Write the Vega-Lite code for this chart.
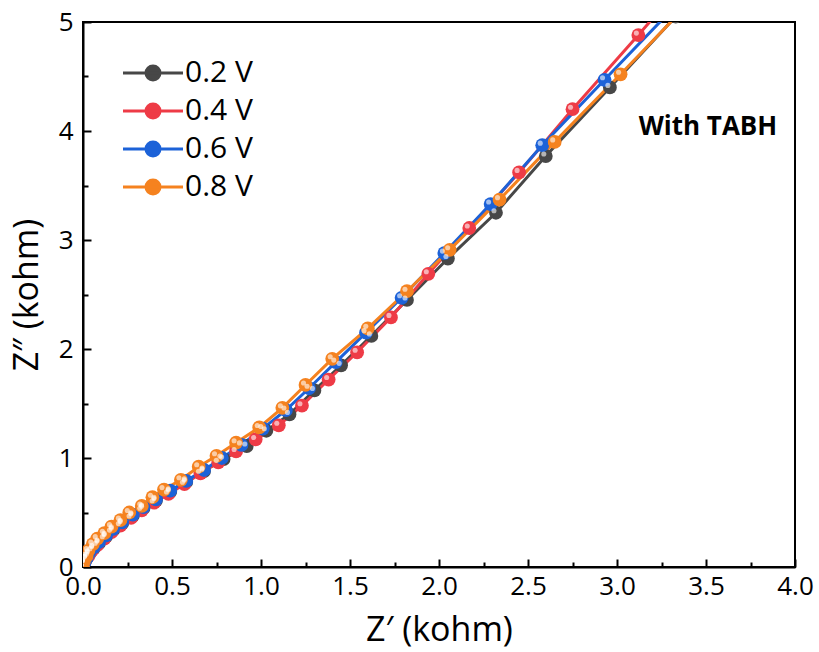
{
  "$schema": "https://vega.github.io/schema/vega-lite/v6.json",
  "width": 712,
  "height": 545,
  "autosize": {"type": "none"},
  "padding": {"left": 83, "top": 22, "right": 24, "bottom": 85},
  "background": "white",
  "config": {
    "font": "Open Sans",
    "view": {"stroke": "black", "strokeWidth": 2},
    "axis": {"grid": false, "labelFlush": false, "domainColor": "black", "domainWidth": 2, "tickColor": "black", "tickWidth": 2, "labelColor": "black", "titleColor": "black", "labelFont": "Open Sans", "titleFont": "Open Sans", "titleFontWeight": "normal"}
  },
  "datasets": {
    "eis": [
      {"s": "0.2 V", "x": 0, "y": 0}, {"s": "0.2 V", "x": 0.008, "y": 0.04}, {"s": "0.2 V", "x": 0.02, "y": 0.08}, {"s": "0.2 V", "x": 0.035, "y": 0.12}, {"s": "0.2 V", "x": 0.06, "y": 0.17}, {"s": "0.2 V", "x": 0.09, "y": 0.22}, {"s": "0.2 V", "x": 0.13, "y": 0.28}, {"s": "0.2 V", "x": 0.17, "y": 0.34}, {"s": "0.2 V", "x": 0.22, "y": 0.40}, {"s": "0.2 V", "x": 0.28, "y": 0.47}, {"s": "0.2 V", "x": 0.34, "y": 0.54}, {"s": "0.2 V", "x": 0.41, "y": 0.61}, {"s": "0.2 V", "x": 0.49, "y": 0.69}, {"s": "0.2 V", "x": 0.58, "y": 0.78}, {"s": "0.2 V", "x": 0.68, "y": 0.88}, {"s": "0.2 V", "x": 0.79, "y": 0.99}, {"s": "0.2 V", "x": 0.92, "y": 1.11}, {"s": "0.2 V", "x": 1.03, "y": 1.25}, {"s": "0.2 V", "x": 1.16, "y": 1.40}, {"s": "0.2 V", "x": 1.30, "y": 1.62}, {"s": "0.2 V", "x": 1.45, "y": 1.85}, {"s": "0.2 V", "x": 1.62, "y": 2.12}, {"s": "0.2 V", "x": 1.82, "y": 2.45}, {"s": "0.2 V", "x": 2.05, "y": 2.83}, {"s": "0.2 V", "x": 2.32, "y": 3.25}, {"s": "0.2 V", "x": 2.60, "y": 3.77}, {"s": "0.2 V", "x": 2.96, "y": 4.40}, {"s": "0.2 V", "x": 3.33, "y": 5.05},
      {"s": "0.4 V", "x": 0, "y": 0}, {"s": "0.4 V", "x": 0.01, "y": 0.05}, {"s": "0.4 V", "x": 0.03, "y": 0.10}, {"s": "0.4 V", "x": 0.05, "y": 0.15}, {"s": "0.4 V", "x": 0.08, "y": 0.20}, {"s": "0.4 V", "x": 0.12, "y": 0.26}, {"s": "0.4 V", "x": 0.16, "y": 0.32}, {"s": "0.4 V", "x": 0.21, "y": 0.38}, {"s": "0.4 V", "x": 0.27, "y": 0.45}, {"s": "0.4 V", "x": 0.33, "y": 0.52}, {"s": "0.4 V", "x": 0.40, "y": 0.59}, {"s": "0.4 V", "x": 0.48, "y": 0.67}, {"s": "0.4 V", "x": 0.57, "y": 0.76}, {"s": "0.4 V", "x": 0.66, "y": 0.86}, {"s": "0.4 V", "x": 0.76, "y": 0.96}, {"s": "0.4 V", "x": 0.86, "y": 1.06}, {"s": "0.4 V", "x": 0.97, "y": 1.17}, {"s": "0.4 V", "x": 1.10, "y": 1.30}, {"s": "0.4 V", "x": 1.23, "y": 1.48}, {"s": "0.4 V", "x": 1.38, "y": 1.72}, {"s": "0.4 V", "x": 1.54, "y": 1.97}, {"s": "0.4 V", "x": 1.73, "y": 2.29}, {"s": "0.4 V", "x": 1.94, "y": 2.69}, {"s": "0.4 V", "x": 2.17, "y": 3.11}, {"s": "0.4 V", "x": 2.45, "y": 3.62}, {"s": "0.4 V", "x": 2.75, "y": 4.20}, {"s": "0.4 V", "x": 3.12, "y": 4.88}, {"s": "0.4 V", "x": 3.50, "y": 5.60},
      {"s": "0.6 V", "x": 0, "y": 0}, {"s": "0.6 V", "x": 0.008, "y": 0.04}, {"s": "0.6 V", "x": 0.02, "y": 0.08}, {"s": "0.6 V", "x": 0.035, "y": 0.13}, {"s": "0.6 V", "x": 0.06, "y": 0.18}, {"s": "0.6 V", "x": 0.09, "y": 0.23}, {"s": "0.6 V", "x": 0.13, "y": 0.29}, {"s": "0.6 V", "x": 0.17, "y": 0.35}, {"s": "0.6 V", "x": 0.22, "y": 0.41}, {"s": "0.6 V", "x": 0.28, "y": 0.48}, {"s": "0.6 V", "x": 0.34, "y": 0.55}, {"s": "0.6 V", "x": 0.41, "y": 0.62}, {"s": "0.6 V", "x": 0.49, "y": 0.70}, {"s": "0.6 V", "x": 0.58, "y": 0.79}, {"s": "0.6 V", "x": 0.68, "y": 0.89}, {"s": "0.6 V", "x": 0.78, "y": 1.00}, {"s": "0.6 V", "x": 0.89, "y": 1.12}, {"s": "0.6 V", "x": 1.01, "y": 1.27}, {"s": "0.6 V", "x": 1.14, "y": 1.44}, {"s": "0.6 V", "x": 1.27, "y": 1.64}, {"s": "0.6 V", "x": 1.42, "y": 1.88}, {"s": "0.6 V", "x": 1.59, "y": 2.15}, {"s": "0.6 V", "x": 1.79, "y": 2.47}, {"s": "0.6 V", "x": 2.03, "y": 2.88}, {"s": "0.6 V", "x": 2.29, "y": 3.33}, {"s": "0.6 V", "x": 2.58, "y": 3.87}, {"s": "0.6 V", "x": 2.93, "y": 4.47}, {"s": "0.6 V", "x": 3.30, "y": 5.10},
      {"s": "0.8 V", "x": 0, "y": 0}, {"s": "0.8 V", "x": 0.005, "y": 0.05}, {"s": "0.8 V", "x": 0.02, "y": 0.10}, {"s": "0.8 V", "x": 0.03, "y": 0.15}, {"s": "0.8 V", "x": 0.055, "y": 0.21}, {"s": "0.8 V", "x": 0.08, "y": 0.26}, {"s": "0.8 V", "x": 0.12, "y": 0.31}, {"s": "0.8 V", "x": 0.16, "y": 0.37}, {"s": "0.8 V", "x": 0.21, "y": 0.43}, {"s": "0.8 V", "x": 0.26, "y": 0.50}, {"s": "0.8 V", "x": 0.33, "y": 0.56}, {"s": "0.8 V", "x": 0.39, "y": 0.64}, {"s": "0.8 V", "x": 0.455, "y": 0.71}, {"s": "0.8 V", "x": 0.55, "y": 0.80}, {"s": "0.8 V", "x": 0.65, "y": 0.92}, {"s": "0.8 V", "x": 0.75, "y": 1.02}, {"s": "0.8 V", "x": 0.86, "y": 1.14}, {"s": "0.8 V", "x": 0.99, "y": 1.28}, {"s": "0.8 V", "x": 1.12, "y": 1.46}, {"s": "0.8 V", "x": 1.25, "y": 1.67}, {"s": "0.8 V", "x": 1.40, "y": 1.91}, {"s": "0.8 V", "x": 1.60, "y": 2.19}, {"s": "0.8 V", "x": 1.82, "y": 2.53}, {"s": "0.8 V", "x": 2.06, "y": 2.91}, {"s": "0.8 V", "x": 2.34, "y": 3.37}, {"s": "0.8 V", "x": 2.65, "y": 3.90}, {"s": "0.8 V", "x": 3.02, "y": 4.52}, {"s": "0.8 V", "x": 3.42, "y": 5.20}
    ],
    "note": [{"label": "With TABH", "x": 3.9, "y": 4.04}]
  },
  "resolve": {"axis": {"x": "independent", "y": "independent"}},
  "layer": [
    {
      "data": {"name": "eis"},
      "mark": {"type": "line", "strokeWidth": 3, "clip": true},
      "encoding": {
        "x": {"field": "x", "type": "quantitative", "scale": {"domain": [0, 4], "nice": false}, "axis": {"orient": "bottom", "values": [0, 0.5, 1, 1.5, 2, 2.5, 3, 3.5, 4], "format": ".1f", "labelFontSize": 26, "tickSize": -8, "labelPadding": 14, "title": "Z′ (kohm)", "titleFontSize": 34, "titlePadding": 14}},
        "y": {"field": "y", "type": "quantitative", "scale": {"domain": [0, 5], "nice": false}, "axis": {"orient": "left", "values": [0, 1, 2, 3, 4, 5], "format": "d", "labelFontSize": 26, "tickSize": -8, "labelPadding": 18, "title": "Z″ (kohm)", "titleFontSize": 34, "titlePadding": 14}},
        "color": {"field": "s", "type": "nominal", "scale": {"domain": ["0.2 V", "0.4 V", "0.6 V", "0.8 V"], "range": ["#474747", "#ee3b46", "#1c62d8", "#f5821f"]}, "legend": {"title": null, "orient": "none", "legendX": 55, "legendY": 36, "symbolType": "M-3,0H3M-0.7,0A0.7,0.7 0 1,0 0.7,0A0.7,0.7 0 1,0 -0.7,0Z", "symbolSize": 400, "symbolStrokeWidth": 3, "labelFontSize": 30, "labelColor": "black", "labelOffset": 17, "rowPadding": 8, "encode": {"symbols": {"update": {"stroke": {"scale": "color", "field": "value"}, "fill": {"scale": "color", "field": "value"}, "opacity": {"value": 1}}}}}},
        "detail": {"field": "s"}
      }
    },
    {
      "data": {"name": "eis"},
      "mark": {"type": "point", "filled": true, "opacity": 1, "size": 190, "clip": true},
      "encoding": {
        "x": {"field": "x", "type": "quantitative", "axis": null},
        "y": {"field": "y", "type": "quantitative", "axis": null},
        "color": {"field": "s", "type": "nominal", "legend": {"title": null, "orient": "none", "legendX": 55, "legendY": 36, "symbolType": "M-3,0H3M-0.7,0A0.7,0.7 0 1,0 0.7,0A0.7,0.7 0 1,0 -0.7,0Z", "symbolSize": 400, "symbolStrokeWidth": 3, "labelFontSize": 30, "labelColor": "black", "labelOffset": 17, "rowPadding": 8, "encode": {"symbols": {"update": {"stroke": {"scale": "color", "field": "value"}, "fill": {"scale": "color", "field": "value"}, "opacity": {"value": 1}}}}}}
      }
    },
    {
      "data": {"name": "eis"},
      "mark": {"type": "point", "filled": true, "color": "white", "opacity": 0.6, "size": 26, "xOffset": -2, "yOffset": -2, "clip": true},
      "encoding": {
        "x": {"field": "x", "type": "quantitative", "axis": {"orient": "bottom", "values": [0.25, 0.75, 1.25, 1.75, 2.25, 2.75, 3.25, 3.75], "labels": false, "domain": false, "tickSize": -5, "title": null}},
        "y": {"field": "y", "type": "quantitative", "axis": {"orient": "left", "values": [0.5, 1.5, 2.5, 3.5, 4.5], "labels": false, "domain": false, "tickSize": -5, "title": null}}
      }
    },
    {
      "data": {"name": "note"},
      "mark": {"type": "text", "align": "right", "baseline": "middle", "fontSize": 26, "fontWeight": "bold", "font": "Open Sans", "color": "black"},
      "encoding": {
        "x": {"field": "x", "type": "quantitative", "axis": null},
        "y": {"field": "y", "type": "quantitative", "axis": null},
        "text": {"field": "label"}
      }
    }
  ]
}
